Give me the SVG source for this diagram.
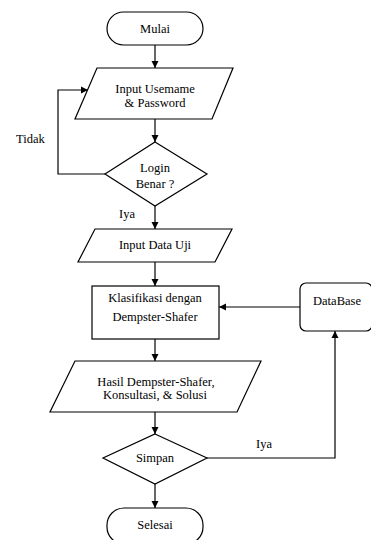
<svg xmlns="http://www.w3.org/2000/svg" width="371" height="540" viewBox="0 0 371 540" font-family="'Liberation Serif', 'Times New Roman', serif" font-size="12.5">
<defs>
<marker id="ah" markerWidth="8" markerHeight="8" refX="7" refY="4" orient="auto" markerUnits="userSpaceOnUse">
<path d="M0,0.5 L7,4 L0,7.5 Z" fill="#000"/>
</marker>
<style>
.s{fill:#fff;stroke:#000;stroke-width:1.2}
.c{fill:none;stroke:#000;stroke-width:1.2;marker-end:url(#ah)}
text{font-family:'Liberation Serif','Times New Roman',serif;font-size:12.5px;fill:#000;text-anchor:middle}
.lb{text-anchor:start}
</style>
</defs>
<rect width="371" height="540" fill="#fff"/>
<g id="connectors">
<line class="c" x1="155" y1="45" x2="155" y2="68"/>
<line class="c" x1="155" y1="119" x2="155" y2="142"/>
<polyline class="c" points="105,174 58,174 58,90 88,90"/>
<line class="c" x1="155" y1="206" x2="155" y2="229"/>
<line class="c" x1="155" y1="262" x2="155" y2="286"/>
<line class="c" x1="300" y1="307" x2="219" y2="307"/>
<line class="c" x1="155" y1="339" x2="155" y2="361"/>
<line class="c" x1="155" y1="412" x2="155" y2="434"/>
<polyline class="c" points="207,458 335,458 335,331"/>
<line class="c" x1="155" y1="484" x2="155" y2="508"/>
<text class="lb" x="16" y="143">Tidak</text>
<text class="lb" x="119" y="218">Iya</text>
<text class="lb" x="256" y="448">Iya</text>
</g>
<g id="mulai">
<rect class="s" x="107" y="12" width="96" height="33" rx="16.5"/>
<text x="155" y="33">Mulai</text>
</g>
<g id="input-login">
<polygon class="s" points="97,68 233,68 212,119 75,119"/>
<text x="155" y="93">Input Usemame</text>
<text x="155" y="107">&amp; Password</text>
</g>
<g id="login-benar">
<polygon class="s" points="155,142 207,174 155,206 105,174"/>
<text x="155" y="172">Login</text>
<text x="155" y="188">Benar ?</text>
</g>
<g id="input-data">
<polygon class="s" points="95,229 232,229 215,262 78,262"/>
<text x="155" y="249">Input Data Uji</text>
</g>
<g id="klasifikasi">
<rect class="s" x="92" y="286" width="127" height="53"/>
<text x="155" y="302">Klasifikasi dengan</text>
<text x="155" y="321">Dempster-Shafer</text>
</g>
<g id="database">
<rect class="s" x="300" y="283" width="72" height="48" rx="6"/>
<text x="337" y="305">DataBase</text>
</g>
<g id="hasil">
<polygon class="s" points="75,361 261,361 237,412 50,412"/>
<text x="156" y="386">Hasil Dempster-Shafer,</text>
<text x="155" y="399">Konsultasi, &amp; Solusi</text>
</g>
<g id="simpan">
<polygon class="s" points="155,434 207,458 155,484 103,458"/>
<text x="155" y="462">Simpan</text>
</g>
<g id="selesai">
<rect class="s" x="107" y="508" width="96" height="36" rx="17"/>
<text x="155" y="529">Selesai</text>
</g>
</svg>
